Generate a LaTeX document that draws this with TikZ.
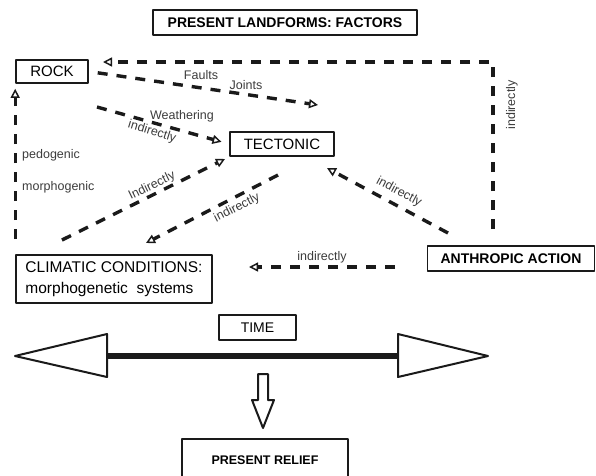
\documentclass[tikz,border=0pt]{standalone}
\usepackage{fontspec}
\setmainfont{Liberation Sans}
\usetikzlibrary{arrows.meta}

\definecolor{landformink}{HTML}{1A1A1A}
\definecolor{landformlabel}{HTML}{3C3C3C}

\begin{document}
\begin{tikzpicture}[x=1pt,y=-1pt,line join=round,
  factorbox/.style={draw=landformink,line width=1.6pt,inner sep=0pt,font=\fontsize{15}{17}\selectfont},
  factorlink/.style={draw=landformink,line width=3.4pt,dash pattern=on 10pt off 9pt,
    -{Triangle[open,length=9pt,width=9pt,line width=1.5pt]}},
  factorlabel/.style={text=landformlabel,inner sep=0pt,font=\fontsize{12.5}{14}\selectfont}]
  % Match the artwork frame of the scanned figure.
  \useasboundingbox (0,0) rectangle (596,475);

  % Factor boxes.
  \node[factorbox,minimum width=264pt,minimum height=25pt,font=\bfseries\fontsize{14}{16}\selectfont] (title) at (285,22.5) {PRESENT LANDFORMS: FACTORS};
  \node[factorbox,minimum width=72pt,minimum height=23pt] (rock) at (52,71.5) {ROCK};
  \node[factorbox,minimum width=104pt,minimum height=24pt] (tectonic) at (282,144) {TECTONIC};
  \node[factorbox,minimum width=196pt,minimum height=48pt,align=left,font=\fontsize{15.5}{21}\selectfont] (climatic) at (114,279) {CLIMATIC CONDITIONS:\\morphogenetic\ \ systems};
  \node[factorbox,minimum width=167pt,minimum height=25pt,font=\bfseries\fontsize{14}{16}\selectfont] (anthropic) at (511,258.5) {ANTHROPIC ACTION};
  \node[factorbox,minimum width=77pt,minimum height=25pt,font=\fontsize{14}{16}\selectfont] (time) at (257.5,327.5) {TIME};
  \node[factorbox,minimum width=166pt,minimum height=42pt,font=\bfseries\fontsize{12.5}{14}\selectfont] (relief) at (265,460) {PRESENT RELIEF};

  % Free ends of the dashed links.
  \coordinate (anthUp) at (493,229);
  \coordinate (rockIn) at (103,62);
  \coordinate (faultsEnd) at (318,105);
  \coordinate (weathStart) at (97,107);
  \coordinate (climUp) at (62,240);
  \coordinate (tecIn) at (225,159);
  \coordinate (tecDown) at (278,175);
  \coordinate (climIn) at (146,243);
  \coordinate (anthLeft) at (448,233);
  \coordinate (tecOut) at (327,168);
  \coordinate (anthBack) at (395,267);
  \coordinate (climEast) at (249,267);

  % Dashed links between the factors.
  \draw[factorlink] (anthUp) |- (rockIn);
  \draw[factorlink,shorten <=9pt] (rock.east) -- (faultsEnd);
  \draw[factorlink,shorten >=8pt] (weathStart) -- (tectonic.west);
  \draw[factorlink] (climUp) -- (tecIn);
  \draw[factorlink] (tecDown) -- (climIn);
  \draw[factorlink] (anthLeft) -- (tecOut);
  \draw[factorlink] (anthBack) -- (climEast);
  \draw[factorlink,shorten <=15pt,shorten >=5pt] (climatic.north west) -- (rock.south west);

  % Link labels.
  \node[factorlabel] (faults) at (201,75) {Faults};
  \node[factorlabel] (joints) at (246,85) {Joints};
  \node[factorlabel] (weathering) at (182,116) {Weathering};
  \node[factorlabel,rotate=-17] (indWeath) at (152,132) {indirectly};
  \node[factorlabel,rotate=26] (indUp) at (152,186) {Indirectly};
  \node[factorlabel,rotate=27] (indDown) at (237,208) {indirectly};
  \node[factorlabel,rotate=-28] (indAnth) at (399,192) {indirectly};
  \node[factorlabel] (indBack) at (322,257) {indirectly};
  \node[factorlabel,rotate=90] (indTop) at (512,105) {indirectly};
  \node[factorlabel,anchor=west] (pedogenic) at (22,155) {pedogenic};
  \node[factorlabel,anchor=west] (morphogenic) at (22,187) {morphogenic};

  % Time axis with hollow heads, shaft first so the heads cover its ends.
  \draw[landformink,line width=6pt] (107,356) -- (398,356);
  \draw[landformink,line width=2pt,fill=white] (15,356) -- (107,334) -- (107,377) -- cycle;
  \draw[landformink,line width=2pt,fill=white] (488,356) -- (398,334) -- (398,377) -- cycle;

  % Hollow block arrow down to the present relief.
  \draw[landformink,line width=2pt,fill=white] (258,374) -- (268,374) -- (268,400) -- (274,400)
    -- (263,428) -- (252,400) -- (258,400) -- cycle;
\end{tikzpicture}
\end{document}
